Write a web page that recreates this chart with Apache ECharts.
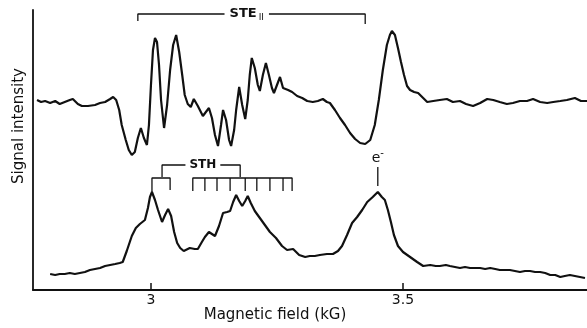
<!DOCTYPE html>
<html>
<head>
<meta charset="utf-8">
<script src="https://cdn.jsdelivr.net/npm/echarts@6/dist/echarts.min.js"></script>
<style>
html,body{margin:0;padding:0;background:#fff;}
#main{width:587px;height:328px;}
</style>
</head>
<body>
<div id="main"></div>
<script>
// field in kG, signal in arbitrary units
var topTrace = [
	[2.774,190],[2.782,188],[2.790,189],[2.800,187],[2.810,189],[2.819,186],[2.829,188],[2.839,190],
	[2.845,191],[2.855,186],[2.863,184],[2.875,184],[2.889,185],[2.899,187],[2.909,188],[2.919,191],
	[2.925,193],[2.931,190],[2.937,180],[2.942,165],[2.950,150],[2.956,140],[2.962,135],[2.968,138],
	[2.974,152],[2.980,162],[2.986,152],[2.992,145],[2.996,165],[3.000,205],[3.004,240],[3.008,252],
	[3.012,248],[3.016,225],[3.020,190],[3.026,162],[3.032,185],[3.038,220],[3.044,245],[3.050,255],
	[3.056,238],[3.062,215],[3.067,195],[3.073,186],[3.079,183],[3.085,191],[3.093,184],[3.103,174],
	[3.109,178],[3.115,182],[3.121,172],[3.127,155],[3.133,144],[3.139,165],[3.143,180],[3.149,170],
	[3.155,150],[3.159,144],[3.165,160],[3.169,180],[3.175,203],[3.181,185],[3.187,171],[3.192,190],
	[3.196,215],[3.200,232],[3.206,222],[3.212,205],[3.216,199],[3.222,215],[3.228,227],[3.234,215],
	[3.240,202],[3.244,197],[3.250,205],[3.256,213],[3.262,202],[3.272,200],[3.280,198],[3.290,194],
	[3.300,192],[3.310,189],[3.321,188],[3.331,189],[3.341,191],[3.349,188],[3.355,187],[3.365,180],
	[3.375,172],[3.385,165],[3.395,157],[3.405,151],[3.415,147],[3.425,146],[3.435,150],[3.444,165],
	[3.452,190],[3.460,220],[3.468,245],[3.474,255],[3.478,259],[3.484,255],[3.490,242],[3.496,228],
	[3.502,215],[3.508,204],[3.514,200],[3.522,198],[3.530,197],[3.540,192],[3.548,188],[3.560,189],
	[3.573,190],[3.587,191],[3.599,188],[3.613,189],[3.625,186],[3.639,184],[3.653,187],[3.667,191],
	[3.679,190],[3.692,188],[3.706,186],[3.718,187],[3.732,189],[3.746,189],[3.758,191],[3.772,188],
	[3.786,187],[3.798,188],[3.812,189],[3.825,190],[3.841,192],[3.853,189],[3.865,189]
];
var bottomTrace = [
	[2.800,16],[2.810,15],[2.819,16],[2.829,16],[2.839,17],[2.849,16],[2.859,17],[2.869,18],
	[2.879,20],[2.889,21],[2.899,22],[2.909,24],[2.919,25],[2.929,26],[2.938,27],[2.944,28],
	[2.952,39],[2.962,54],[2.970,62],[2.978,66],[2.988,70],[2.994,82],[2.998,93],[3.002,98],
	[3.008,90],[3.014,80],[3.022,68],[3.028,75],[3.034,81],[3.040,74],[3.046,58],[3.052,47],
	[3.058,42],[3.065,39],[3.077,42],[3.087,41],[3.093,41],[3.101,48],[3.107,53],[3.115,58],
	[3.121,56],[3.127,54],[3.135,64],[3.143,77],[3.151,78],[3.157,79],[3.163,88],[3.169,95],
	[3.175,89],[3.181,84],[3.187,89],[3.192,94],[3.198,87],[3.206,79],[3.216,72],[3.226,65],
	[3.236,58],[3.248,52],[3.260,44],[3.270,40],[3.282,41],[3.294,35],[3.306,33],[3.315,34],
	[3.325,34],[3.335,35],[3.349,36],[3.361,36],[3.371,39],[3.379,44],[3.389,55],[3.399,67],
	[3.409,73],[3.419,80],[3.429,88],[3.440,93],[3.450,98],[3.458,93],[3.464,90],[3.470,80],
	[3.476,68],[3.482,55],[3.490,44],[3.500,38],[3.514,33],[3.528,28],[3.540,24],[3.554,25],
	[3.565,24],[3.573,24],[3.585,25],[3.593,24],[3.603,23],[3.613,22],[3.623,23],[3.633,22],
	[3.643,22],[3.653,22],[3.663,21],[3.673,22],[3.683,21],[3.692,20],[3.702,20],[3.712,20],
	[3.722,19],[3.732,18],[3.742,19],[3.752,19],[3.762,18],[3.772,18],[3.782,17],[3.792,15],
	[3.802,15],[3.812,13],[3.821,14],[3.831,15],[3.841,14],[3.851,13],[3.861,12]
];
var tickValues = [3, 3.5];
var tickLabels = ['3', '3.5'];

// bracket annotations (field positions, kG)
var steBracket = [[2.974,269],[2.974,276],[3.425,276],[3.425,266]];
var sthTop = [[3.022,113],[3.022,125],[3.177,125],[3.177,113]];
var sthPair = [[3.002,98],[3.002,112],[3.038,112],[3.038,100]];
var sthComb = [3.083,3.107,3.131,3.157,3.187,3.210,3.236,3.262,3.280];
var eMark = [[3.450,104],[3.450,123]];

var combLine = [];
for (var i = 0; i < sthComb.length; i++) {
	combLine.push([sthComb[i],112]);
	combLine.push([sthComb[i],99]);
	combLine.push([sthComb[i],112]);
}

function annoSeries(data){
	return {
		type:'line', data:data, showSymbol:false, silent:true,
		lineStyle:{color:'#111', width:1.3}, z:3
	};
}

var fnt = 'DejaVu Sans';
var myChart = echarts.init(document.getElementById('main'));
var option = {
	animation:false,
	backgroundColor:'#fff',
	grid:{left:33, right:0, top:10, bottom:38},
	xAxis:{
		type:'value', min:2.766, max:3.865,
		axisLine:{lineStyle:{color:'#111', width:1.8}},
		axisTick:{inside:true, length:7, customValues:tickValues, lineStyle:{color:'#111', width:1.5}},
		axisLabel:{customValues:tickValues, color:'#111', fontSize:14, fontFamily:fnt, margin:3,
			formatter:function(v){ return tickLabels[tickValues.indexOf(v)]; }},
		splitLine:{show:false}
	},
	yAxis:{
		type:'value', min:0, max:280,
		axisLine:{show:true, lineStyle:{color:'#111', width:1.8}},
		axisTick:{show:false}, axisLabel:{show:false}, splitLine:{show:false}
	},
	series:[
		{type:'line', data:topTrace, showSymbol:false, lineStyle:{color:'#111', width:2.2}, z:4},
		{type:'line', data:bottomTrace, showSymbol:false, lineStyle:{color:'#111', width:2.2}, z:4},
		annoSeries(steBracket),
		annoSeries(sthTop),
		annoSeries(sthPair),
		annoSeries(combLine),
		annoSeries(eMark)
	]
};
myChart.setOption(option);

// text labels placed through the chart's own coordinates
var pSte = myChart.convertToPixel({gridIndex:0}, [3.190,276]);
var pSth = myChart.convertToPixel({gridIndex:0}, [3.103,125]);
var pE = myChart.convertToPixel({gridIndex:0}, [3.450,132]);
myChart.setOption({
	graphic:[
		{type:'text', x:pSte[0], y:pSte[1], z:10, style:{
			text:'{a|STE}{b|II}', align:'center', verticalAlign:'middle',
			backgroundColor:'#fff', padding:[2,5,2,5],
			rich:{a:{fontSize:13, fontFamily:fnt, fill:'#111', fontWeight:'bold'},
				b:{fontSize:9, fontFamily:fnt, fill:'#111', padding:[8,0,0,2]}}
		}},
		{type:'text', x:pSth[0], y:pSth[1], z:10, style:{
			text:'STH', align:'center', verticalAlign:'middle', font:'bold 12px '+fnt,
			fill:'#111', backgroundColor:'#fff', padding:[1,4,1,4]
		}},
		{type:'text', x:pE[0], y:pE[1], z:10, style:{
			text:'{a|e}{b|-}', align:'center', verticalAlign:'middle',
			rich:{a:{fontSize:14, fontFamily:fnt, fill:'#111'},
				b:{fontSize:10, fontFamily:fnt, fill:'#111', padding:[0,0,9,0]}}
		}},
		{type:'text', x:275, y:315, style:{
			text:'Magnetic field (kG)', align:'center', verticalAlign:'middle',
			font:'15px '+fnt, fill:'#111'
		}},
		{type:'text', x:19, y:126, rotation:Math.PI/2, style:{
			text:'Signal intensity', align:'center', verticalAlign:'middle',
			font:'15px '+fnt, fill:'#111'
		}}
	]
});
</script>
</body>
</html>
